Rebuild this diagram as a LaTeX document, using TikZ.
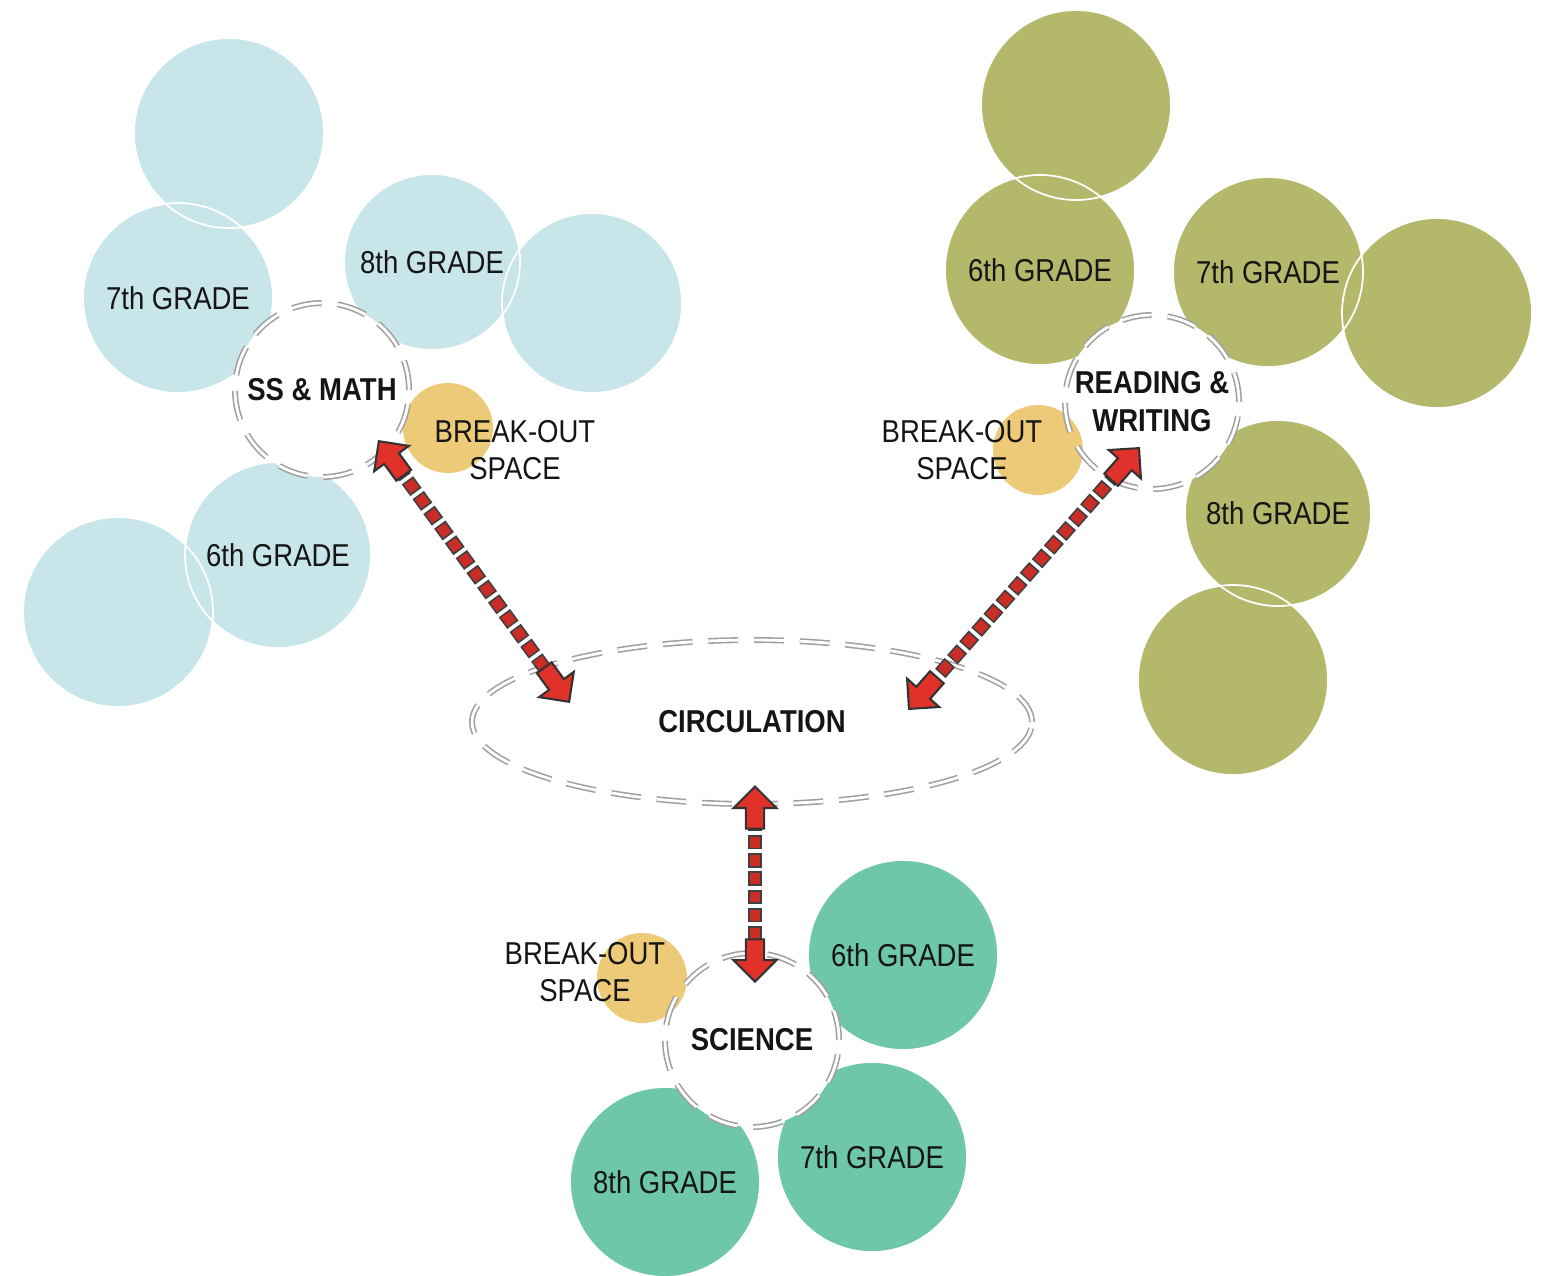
\documentclass[tikz,border=0pt]{standalone}
\usepackage{fontspec}
\setmainfont[FakeStretch=0.87]{Liberation Sans}
\usetikzlibrary{arrows,positioning,shapes,shapes.geometric,shapes.arrows}
\definecolor{blueC}{HTML}{C8E6E9}
\definecolor{oliveC}{HTML}{B4B86B}
\definecolor{greenC}{HTML}{6EC7A6}
\definecolor{yellowC}{HTML}{EDCA78}
\definecolor{arrowred}{HTML}{E0322A}
\definecolor{inkC}{HTML}{151515}

\begin{document}
\begin{tikzpicture}[scale=1,
grade/.style={circle,minimum size=1.9cm,inner sep=0pt,fill=#1,text=inkC,font=\fontsize{9}{10.5}\selectfont},
rim/.style={circle,minimum size=#1,inner sep=0pt,draw=white,line width=0.5pt},
hub/.style={circle,minimum size=1.74cm,inner sep=0pt,fill=white,align=center,text=inkC,font=\fontsize{9}{10.8}\selectfont\bfseries},
hubline/.style={draw=gray!75,double=white,double distance=0.8pt,line width=0.45pt,dash pattern=on 8.5pt off 4.5pt},
breakout/.style={circle,minimum size=0.9cm,inner sep=0pt,fill=yellowC},
bolabel/.style={align=center,text=inkC,font=\fontsize{9}{10.5}\selectfont},
flow/.style={draw=black!75,double=arrowred!90!black,double distance=3pt,line width=0.5pt,line cap=rect,dash pattern=on 0.1pt off 5.1pt},
head/.style={single arrow,draw=black!80,fill=arrowred,line width=0.6pt,minimum height=12pt,single arrow head extend=3.5pt,inner sep=2.3pt,allow upside down}]
\useasboundingbox (0,0) rectangle (15.44,-12.75);
\node[grade=blueC] (b1) at (2.29,-1.33) {};
\node[grade=blueC,minimum size=1.8cm] (b2) at (5.92,-3.03) {};
\node[grade=blueC] (b3) at (1.18,-6.12) {};
\node[grade=blueC] (b7) at (1.78,-2.98) {7th GRADE};
\node[grade=blueC,minimum size=1.76cm] (b8) at (4.32,-2.62) {8th GRADE};
\node[grade=blueC,minimum size=1.86cm] (b6) at (2.78,-5.55) {6th GRADE};
\node[grade=oliveC] (o1) at (10.76,-1.05) {};
\node[grade=oliveC] (o2) at (14.37,-3.13) {};
\node[grade=oliveC] (o3) at (12.33,-6.80) {};
\node[grade=oliveC] (o6) at (10.40,-2.70) {6th GRADE};
\node[grade=oliveC] (o7) at (12.68,-2.72) {7th GRADE};
\node[grade=oliveC,minimum size=1.86cm] (o8) at (12.78,-5.13) {8th GRADE};
\node[grade=greenC] (g6) at (9.03,-9.55) {6th GRADE};
\node[grade=greenC] (g7) at (8.72,-11.57) {7th GRADE};
\node[grade=greenC] (g8) at (6.65,-11.82) {8th GRADE};
\foreach \g/\d in {b1/1.9,b2/1.8,b3/1.9,b7/1.9,b8/1.76,b6/1.86,o1/1.9,o2/1.9,o3/1.9,o6/1.9,o7/1.9,o8/1.86,g6/1.9,g7/1.9,g8/1.9}
  \node[rim=\d cm] at (\g) {};
\node[hub] (ssm) at (3.22,-3.90) {SS \& MATH};
\node[hub] (rw) at (11.52,-4.02) {READING \&\\WRITING};
\node[hub] (sci) at (7.52,-10.40) {SCIENCE};
\node[breakout] (y1) at (4.48,-4.28) {};
\node[breakout] (y2) at (10.38,-4.50) {};
\node[breakout] (y3) at (6.42,-9.78) {};
\node[bolabel] (t1) at (5.15,-4.50) {BREAK-OUT\\SPACE};
\node[bolabel] (t2) at (9.62,-4.50) {BREAK-OUT\\SPACE};
\node[bolabel] (t3) at (5.85,-9.72) {BREAK-OUT\\SPACE};
\foreach \h in {ssm,rw,sci}
  \node[circle,minimum size=1.74cm,inner sep=0pt,hubline] at (\h) {};
\node[ellipse,minimum width=5.6cm,minimum height=1.64cm,inner sep=0pt,hubline,text=inkC,font=\fontsize{9}{10.5}\selectfont\bfseries] (circ) at (7.52,-7.22) {CIRCULATION};
\coordinate (a1s) at (3.78,-4.40);
\coordinate (a1e) at (5.70,-7.03);
\coordinate (a2s) at (11.40,-4.47);
\coordinate (a2e) at (9.08,-7.10);
\coordinate (a3s) at (7.55,-7.85);
\coordinate (a3e) at (7.55,-9.83);
\foreach \s/\e in {a1s/a1e,a2s/a2e,a3s/a3e}{
  \draw[flow,shorten <=11pt,shorten >=11pt] (\s) -- (\e);
  \path (\s) -- (\e) node[head,pos=1,sloped,anchor=tip] {}
    node[head,pos=0,sloped,anchor=tip,shape border rotate=180] {};
}
\end{tikzpicture}
\end{document}
